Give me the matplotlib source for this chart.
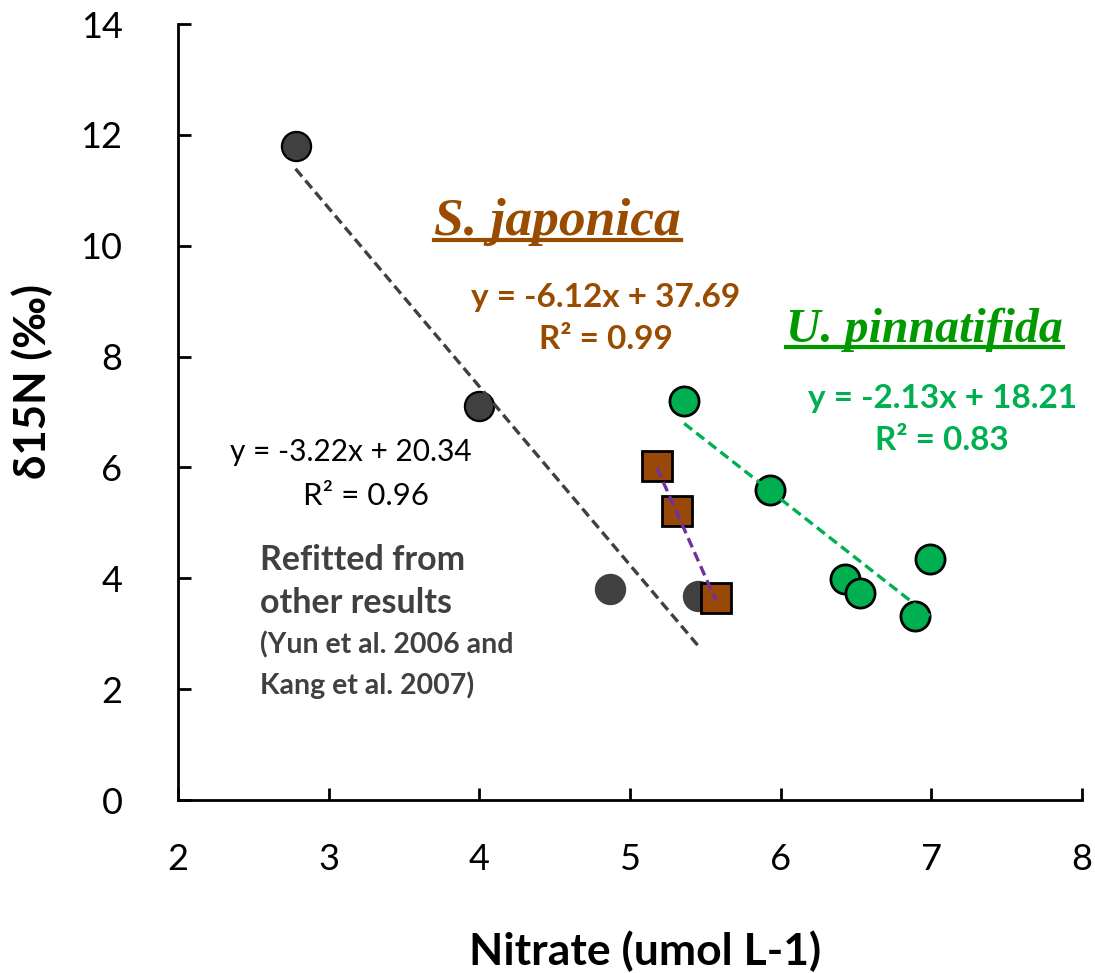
import matplotlib
matplotlib.use("Agg")
import matplotlib.pyplot as plt
import numpy as np

# ---- data ----
ref_x = [2.78, 4.00, 4.87, 5.45]
ref_y = [11.80, 7.10, 3.80, 3.68]
sj_x = [5.18, 5.31, 5.57]
sj_y = [6.03, 5.21, 3.65]
up_x = [5.36, 5.93, 6.43, 6.53, 6.89, 6.99]
up_y = [7.20, 5.59, 3.99, 3.74, 3.32, 4.35]

ref_fit = (-3.22, 20.34)
sj_fit = (-6.12, 37.69)
up_fit = (-2.13, 18.21)

x_ticks = [2, 3, 4, 5, 6, 7, 8]
y_ticks = [0, 2, 4, 6, 8, 10, 12, 14]

GRAY = "#404040"
BROWN = "#984807"
BROWN_T = "#994C00"
GREEN = "#00B050"
GREEN_T = "#009900"
PURPLE = "#7030A0"

plt.rcParams['font.family'] = ['Lato', 'DejaVu Sans']

fig = plt.figure(figsize=(10.95, 9.73), dpi=100)
ax = fig.add_axes([0.1626, 0.1778, 0.8254, 0.7975])
ax.set_xlim(2, 8)
ax.set_ylim(0, 14)
ax.set_xticks(x_ticks)
ax.set_yticks(y_ticks)
for s in ['top', 'right']:
    ax.spines[s].set_visible(False)
for s in ['left', 'bottom']:
    ax.spines[s].set_linewidth(2)
ax.tick_params(direction='in', length=9, width=2, labelsize=26)
ax.tick_params(axis='y', pad=40)
ax.tick_params(axis='x', pad=31)

fig.text(0.589, 0.0226, "Nitrate (umol L-1)", fontsize=32, fontweight='bold', ha='center', va='center')
fig.text(0.0292, 0.6084, "δ15N (‰)", fontsize=31.5, fontweight='bold', ha='center', va='center',
         rotation=90)

ms = 21
# markers
ax.plot(ref_x[:2], ref_y[:2], 'o', ms=ms, mfc=GRAY, mec='black', mew=1.6, zorder=3)
ax.plot(ref_x[2:], ref_y[2:], 'o', ms=ms, mfc=GRAY, mec=GRAY, mew=1.6, zorder=3)
ax.plot(sj_x, sj_y, 's', ms=ms, mfc=BROWN, mec='black', mew=2, zorder=3)
ax.plot(up_x, up_y, 'o', ms=ms, mfc=GREEN, mec='black', mew=2, zorder=3)

def fitline(xs, fit, color):
    xx = np.array([min(xs), max(xs)])
    yy = fit[0] * xx + fit[1]
    ln, = ax.plot(xx, yy, color=color, lw=2.4, zorder=4)
    ln.set_dashes((3, 1.6))

fitline(ref_x, ref_fit, GRAY)
fitline(sj_x, sj_fit, PURPLE)
fitline(up_x, up_fit, GREEN)

def eq(fit):
    return f"y = {fit[0]:.2f}x + {fit[1]:.2f}"

# species labels
t1 = ax.text(4.517, 10.43, "S. japonica", fontsize=38.5, fontweight='bold', fontstyle='italic',
             family='Liberation Serif', color=BROWN_T, ha='center', va='center')
t2 = ax.text(6.954, 8.48, "U. pinnatifida", fontsize=34.5, fontweight='bold', fontstyle='italic',
             family='Liberation Serif', color=GREEN_T, ha='center', va='center')

ax.text(4.841, 9.06, eq(sj_fit), fontsize=24, fontweight='bold', color=BROWN_T, ha='center', va='center')
ax.text(4.841, 8.30, "R² = 0.99", fontsize=24, fontweight='bold', color=BROWN_T, ha='center', va='center')
ax.text(7.073, 7.25, eq(up_fit), fontsize=24, fontweight='bold', color=GREEN, ha='center', va='center')
ax.text(7.073, 6.48, "R² = 0.83", fontsize=24, fontweight='bold', color=GREEN, ha='center', va='center')
ax.text(3.146, 6.28, eq(ref_fit), fontsize=21.5, color='black', ha='center', va='center')
ax.text(3.25, 5.48, "R² = 0.96", fontsize=22.5, color='black', ha='center', va='center')

ax.text(2.543, 4.33, "Refitted from", fontsize=24.5, fontweight='bold', color=GRAY, ha='left', va='center')
ax.text(2.543, 3.55, "other results", fontsize=24.5, fontweight='bold', color=GRAY, ha='left', va='center')
ax.text(2.543, 2.80, "(Yun et al. 2006 and", fontsize=20.5, fontweight='bold', color=GRAY, ha='left', va='center')
ax.text(2.543, 2.07, "Kang et al. 2007)", fontsize=20.5, fontweight='bold', color=GRAY, ha='left', va='center')

# underline species labels
fig.canvas.draw()
r = fig.canvas.get_renderer()
for t, c in [(t1, BROWN_T), (t2, GREEN_T)]:
    bb = t.get_window_extent(renderer=r)
    inv = fig.transFigure.inverted()
    (x0, y0) = inv.transform((bb.x0, bb.y0 + bb.height * 0.12))
    (x1, _) = inv.transform((bb.x1, bb.y0))
    fig.add_artist(plt.Line2D([x0, x1], [y0, y0], color=c, lw=3, transform=fig.transFigure))

fig.savefig("out.png", dpi=100)
